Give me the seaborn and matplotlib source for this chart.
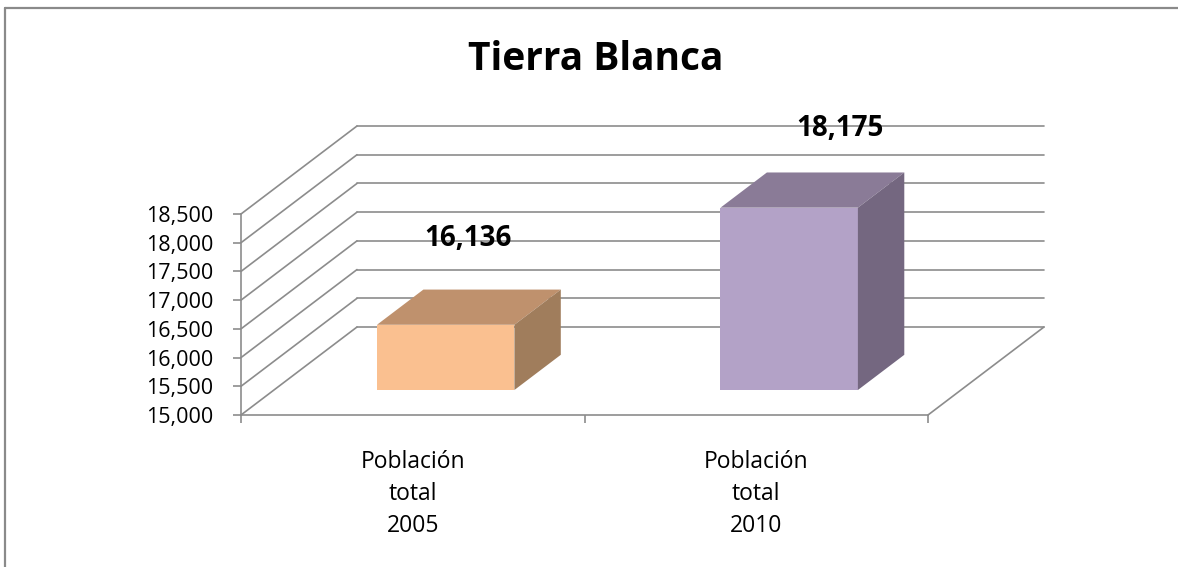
import numpy as np
import pandas as pd
import matplotlib.pyplot as plt
from matplotlib.patches import Polygon
from matplotlib.lines import Line2D
import seaborn as sns

# Datos
categorias = ['Población\ntotal\n2005', 'Población\ntotal\n2010']
poblacion = [16136, 18175]
ticks_y = [15000, 15500, 16000, 16500, 17000, 17500, 18000, 18500]
titulo = 'Tierra Blanca'

# Colores (frente, tapa, lado)
color_frente = ['#FAC090', '#B3A2C7']
color_tapa = ['#BF916D', '#8A7B97']
color_lado = ['#A07D5C', '#746780']
gris = '#8C8C8C'

sns.set_style('white')
plt.rcParams['font.family'] = ['Open Sans', 'DejaVu Sans']
plt.rcParams['text.color'] = 'black'

W, H = 1178, 567
fig = plt.figure(figsize=(W / 100, H / 100), dpi=100)
ax = fig.add_axes([0, 0, 1, 1])

# escala (pixeles) del "frente" del grafico 3D
px_cat = 343.5          # ancho de una categoria
x_px0 = 241             # borde izquierdo del eje
px_val = (415 - 214) / 3500.0
y_px0 = H - 415         # 15,000 en pixeles desde abajo
base = ticks_y[0]

# profundidad del piso y de las barras (en unidades de datos)
prof_x, prof_y = 116 / px_cat, 88 / px_val
frente_x, frente_y = 0.284 * prof_x, 0.284 * prof_y
barra_x, barra_y = 0.40 * prof_x, 0.40 * prof_y

df = pd.DataFrame({'categoria': categorias, 'poblacion': poblacion})
sns.barplot(data=df, x='categoria', y='poblacion', hue='categoria',
            palette=color_frente, width=0.4, saturation=1, errorbar=None,
            legend=False, ax=ax, zorder=3)

ax.set_xlim(-0.5 - x_px0 / px_cat, -0.5 + (W - x_px0) / px_cat)
ax.set_ylim(base - y_px0 / px_val, base + (H - y_px0) / px_val)

# paredes: lineas de cuadricula en la pared del fondo y la lateral
x_izq, x_der = -0.5, len(categorias) - 0.5
for v in ticks_y:
    ax.plot([x_izq + prof_x, x_der + prof_x], [v + prof_y, v + prof_y],
            color=gris, lw=1.2, zorder=1)
    ax.plot([x_izq, x_izq + prof_x], [v, v + prof_y], color=gris, lw=1.2, zorder=1)
ax.plot([x_der, x_der + prof_x], [base, base + prof_y], color=gris, lw=1.2, zorder=1)

# barras 3D
for i, (p, v) in enumerate(zip(ax.patches, poblacion)):
    x0 = p.get_x() + frente_x
    w = p.get_width()
    y0 = base + frente_y
    y1 = v + frente_y
    p.set_x(x0)
    p.set_y(y0)
    p.set_height(v - base)
    p.set_edgecolor('none')
    tapa = Polygon([(x0, y1), (x0 + w, y1), (x0 + w + barra_x, y1 + barra_y),
                    (x0 + barra_x, y1 + barra_y)], closed=True,
                   facecolor=color_tapa[i], edgecolor='none', zorder=3)
    lado = Polygon([(x0 + w, y0), (x0 + w, y1), (x0 + w + barra_x, y1 + barra_y),
                    (x0 + w + barra_x, y0 + barra_y)], closed=True,
                   facecolor=color_lado[i], edgecolor='none', zorder=3)
    ax.add_patch(tapa)
    ax.add_patch(lado)

# etiquetas de valor
desplaz = [(-24, 51), (4, 44)]
for i, (p, v) in enumerate(zip(ax.patches, poblacion)):
    cx = p.get_x() + p.get_width() / 2 + barra_x
    cy = v + frente_y + barra_y
    ax.annotate(f'{v:,}', xy=(cx, cy), xytext=desplaz[i], textcoords='offset pixels',
                ha='center', va='center', fontsize=20, fontweight='bold',
                color='black', zorder=5)

# ejes
for s in ['top', 'right']:
    ax.spines[s].set_visible(False)
ax.spines['left'].set_position(('data', x_izq))
ax.spines['left'].set_bounds(ticks_y[0], ticks_y[-1])
ax.spines['bottom'].set_position(('data', base))
ax.spines['bottom'].set_bounds(x_izq, x_der)
for s in ['left', 'bottom']:
    ax.spines[s].set_color(gris)
    ax.spines[s].set_linewidth(1.2)
    ax.spines[s].set_zorder(2)

ax.set_yticks(ticks_y)
ax.set_yticklabels([f'{t:,}' for t in ticks_y])
ax.tick_params(axis='y', length=6, width=1.2, color=gris, labelcolor='black',
               pad=14, labelsize=15.5, left=True, direction='out')
ax.set_xticks(np.arange(-0.5, len(categorias), 1.0))
ax.set_xticklabels(['' for _ in range(len(categorias) + 1)])
ax.set_xticks(range(len(categorias)), minor=True)
ax.set_xticklabels(categorias, minor=True, linespacing=1.45)
ax.tick_params(axis='x', which='major', length=6, width=1.2, color=gris,
               bottom=True, direction='out')
ax.tick_params(axis='x', which='minor', length=0, pad=25, labelsize=16.5,
               labelcolor='black')
ax.set_xlabel('')
ax.set_ylabel('')
ax.set_facecolor('none')

# titulo
fig.text(596 / W, 1 - 60 / H, titulo, ha='center', va='center',
         fontsize=28, fontweight='bold', color='black')

# borde del area del grafico
fig.add_artist(Line2D([5 / W, 5 / W], [0, 1 - 8 / H], transform=fig.transFigure,
                      color='#8A8A8A', lw=1.6))
fig.add_artist(Line2D([5 / W, 1], [1 - 8 / H, 1 - 8 / H], transform=fig.transFigure,
                      color='#8A8A8A', lw=1.6))

fig.savefig('out.png', dpi=100)
